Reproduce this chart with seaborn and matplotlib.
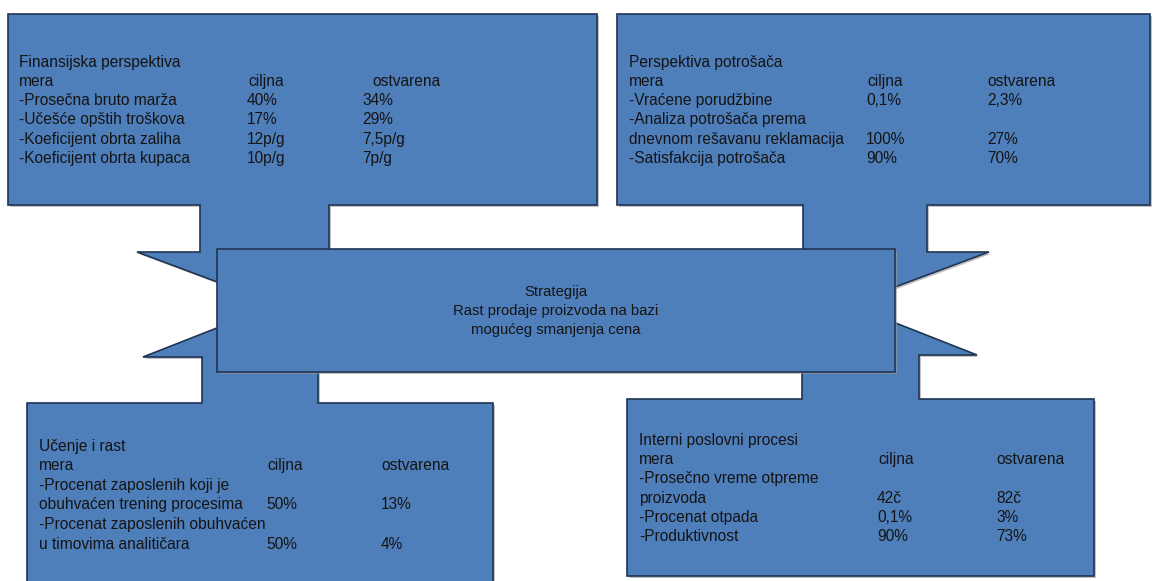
import matplotlib
matplotlib.use("Agg")
import matplotlib.pyplot as plt
from matplotlib.patches import Polygon, Rectangle
import seaborn as sns

# --- PODACI ---
fin_title = "Finansijska perspektiva"
fin_measures = ["-Prosečna bruto marža", "-Učešće opštih troškova",
                "-Koeficijent obrta zaliha", "-Koeficijent obrta kupaca"]
fin_target = ["40%", "17%", "12p/g", "10p/g"]
fin_actual = ["34%", "29%", "7,5p/g", "7p/g"]

cust_title = "Perspektiva potrošača"
cust_measures = ["-Vraćene porudžbine",
                 "-Analiza potrošača prema\ndnevnom rešavanu reklamacija",
                 "-Satisfakcija potrošača"]
cust_target = ["0,1%", "100%", "90%"]
cust_actual = ["2,3%", "27%", "70%"]

learn_title = "Učenje i rast"
learn_measures = ["-Procenat zaposlenih koji je\nobuhvaćen trening procesima",
                  "-Procenat zaposlenih obuhvaćen\nu timovima analitičara"]
learn_target = ["50%", "50%"]
learn_actual = ["13%", "4%"]

proc_title = "Interni poslovni procesi"
proc_measures = ["-Prosečno vreme otpreme\nproizvoda", "-Procenat otpada", "-Produktivnost"]
proc_target = ["42č", "0,1%", "90%"]
proc_actual = ["82č", "3%", "73%"]

header = ["mera", "ciljna", "ostvarena"]
strategy_lines = ["Strategija", "Rast prodaje proizvoda na bazi", "mogućeg smanjenja cena"]

# --- STIL ---
sns.set_theme(style="white")
plt.rcParams['font.family'] = ['Liberation Sans', 'DejaVu Sans']

FILL = '#4f7fba'
EDGE = '#1f3553'
TXT = '#141414'
FS = 11.2

W, H = 1154, 581
fig = plt.figure(figsize=(W / 100, H / 100), dpi=100)
fig.patch.set_facecolor('white')
ax = fig.add_axes([0, 0, 1, 1])
ax.set_xlim(0, W)
ax.set_ylim(H, 0)
ax.axis('off')

# oblici (okvir + krak + strelica prema centru)
callouts = [
    [(8, 14), (597, 14), (597, 205), (329, 205), (329, 300), (260, 298),
     (137, 252), (200, 252), (200, 205), (8, 205)],
    [(617, 14), (1150, 14), (1150, 205), (927, 205), (927, 252), (989, 252),
     (860, 300), (803, 300), (803, 205), (617, 205)],
    [(27, 403), (202, 403), (202, 357), (143, 357), (250, 315), (318, 315),
     (318, 403), (493, 403), (493, 600), (27, 600)],
    [(627, 399), (802, 399), (802, 309), (860, 309), (977, 355), (919, 355),
     (919, 399), (1094, 399), (1094, 576), (627, 576)],
]

for pts in callouts:
    shadow = [(x + 2, y + 2) for x, y in pts]
    ax.add_patch(Polygon(shadow, closed=True, facecolor='#9a9a9a', edgecolor='none',
                         alpha=0.6, zorder=1))
    ax.add_patch(Polygon(pts, closed=True, facecolor=FILL, edgecolor=EDGE,
                         linewidth=1.2, zorder=2))

# centralni okvir
ax.add_patch(Rectangle((219, 251), 678, 123, facecolor='#9a9a9a', edgecolor='none',
                       alpha=0.6, zorder=3))
ax.add_patch(Rectangle((217, 249), 678, 123, facecolor=FILL, edgecolor=EDGE,
                       linewidth=1.2, zorder=4))
for i, line in enumerate(strategy_lines):
    ax.text(556, 292 + i * 19.2, line, ha='center', va='center', fontsize=10.7,
            color=TXT, zorder=5)


def draw_panel(title, measures, target, actual, x0, xc, xa, y0, step, xh=None):
    xh = xa if xh is None else xh
    kw = dict(va='center', ha='left', fontsize=FS, color=TXT, zorder=5)
    ax.text(x0, y0, title, **kw)
    y = y0 + step
    ax.text(x0, y, header[0], **kw)
    ax.text(xc + 1, y, header[1], **kw)
    ax.text(xh, y, header[2], **kw)
    for m, t, a in zip(measures, target, actual):
        parts = m.split("\n")
        for p in parts:
            y += step
            ax.text(x0, y, p, **kw)
        ax.text(xc, y, t, **kw)
        ax.text(xa, y, a, **kw)


draw_panel(fin_title, fin_measures, fin_target, fin_actual, 19, 247, 362, 62, 19.3, xh=372)
draw_panel(cust_title, cust_measures, cust_target, cust_actual, 629, 866, 987, 62, 19.3)
draw_panel(learn_title, learn_measures, learn_target, learn_actual, 39, 266, 381, 446, 19.6)
draw_panel(proc_title, proc_measures, proc_target, proc_actual, 639, 877, 996, 440, 19.4)

fig.savefig('out.png', dpi=100, facecolor='white')
